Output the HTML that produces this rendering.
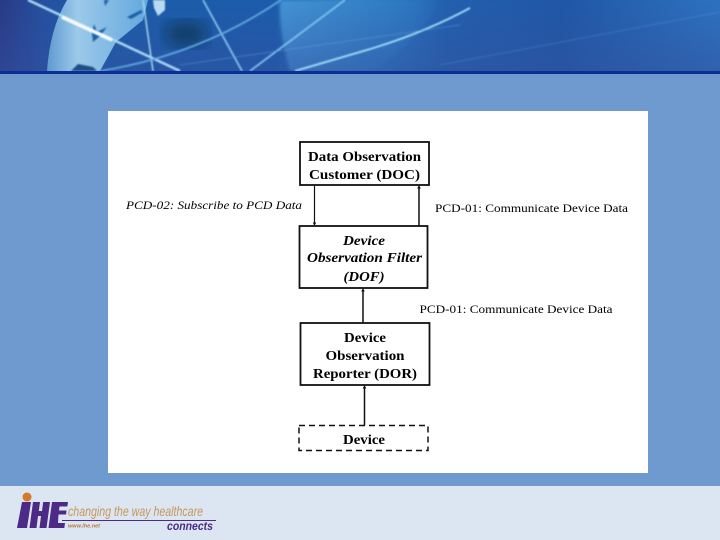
<!DOCTYPE html>
<html><head><meta charset="utf-8">
<style>html,body{margin:0;padding:0;background:#6f9acf}svg{display:block}</style></head>
<body>
<svg xmlns="http://www.w3.org/2000/svg" width="720" height="540" viewBox="0 0 720 540">
<defs>
<linearGradient id="hd" x1="0" y1="0" x2="1" y2="0">
<stop offset="0" stop-color="#2a3a86"/><stop offset=".06" stop-color="#24509f"/><stop offset=".13" stop-color="#1c5ca8"/><stop offset=".38" stop-color="#1b5cab"/><stop offset=".5" stop-color="#2f82c8"/><stop offset=".62" stop-color="#2260ae"/><stop offset=".78" stop-color="#1f57a6"/><stop offset="1" stop-color="#2d72bf"/>
</linearGradient>
<linearGradient id="hd2" x1="0" y1="0" x2="0" y2="1">
<stop offset="0" stop-color="#34509f" stop-opacity="0"/><stop offset="1" stop-color="#34509f" stop-opacity=".5"/>
</linearGradient>
<linearGradient id="globe" x1="0" y1="0" x2="1" y2="0">
<stop offset="0" stop-color="#5f9ad0"/><stop offset=".3" stop-color="#9cc9ea"/><stop offset="1" stop-color="#62a8dd"/>
</linearGradient>
<linearGradient id="ocean" x1="0" y1="0" x2="1" y2="0">
<stop offset="0" stop-color="#4493d4"/><stop offset=".7" stop-color="#2f7cc4"/><stop offset="1" stop-color="#2f7cc4" stop-opacity="0"/>
</linearGradient>
<filter id="b1"><feGaussianBlur stdDeviation=".8"/></filter>
<filter id="b2"><feGaussianBlur stdDeviation="1.500"/></filter>
<filter id="b6"><feGaussianBlur stdDeviation="8"/></filter>
<clipPath id="hc"><rect width="720" height="71"/></clipPath>
</defs>
<rect width="720" height="540" fill="#6f9acf"/>
<g clip-path="url(#hc)">
<rect width="720" height="71" fill="url(#hd)"/>
<path d="M280 0H440Q420 40 372 71H290Q278 30 280 0Z" fill="url(#ocean)" filter="url(#b2)"/>
<rect width="720" height="71" fill="url(#hd2)"/>
<path d="M67 0H148L143 20L116 42L100 71H47Q50 28 67 0Z" fill="url(#globe)"/>
<ellipse cx="186" cy="34" rx="22" ry="13" fill="#0e3d68" filter="url(#b6)"/>
<g filter="url(#b1)">
<path d="M153 0H165L165 10L158 16L154 8Z" fill="#b7daf2"/>
<path d="M127 17L141 10L143 12L131 19Z M94 24L97 32L107 27L100 36L93 42L92 33Z M104 0H109L105 6Z" fill="#1d5fa6"/>
<path d="M71 71L78 64L93 67L97 71Z" fill="#1a4f87"/>
</g>
<g fill="none" filter="url(#b1)">
<path d="M28 0L180 71" stroke="#a9d8f4" stroke-width="2.500"/>
<path d="M62 17L112 40" stroke="#f6fcff" stroke-width="3.500"/>
<path d="M143 0L153 71" stroke="#a6d6f2" stroke-width="1.500"/>
<path d="M203 0L242 71" stroke="#86c4ee" stroke-width="1.800"/>
<path d="M100 71Q200 55 281 0" stroke="#5ea8e0" stroke-width="1.800"/>
<path d="M250 71L345 0" stroke="#7cc1ee" stroke-width="1.800"/>
<path d="M295 71L360 52Q420 35 470 8" stroke="#9ad6f4" stroke-width="2"/>
<path d="M180 65L460 25" stroke="#5b9cdb" stroke-width=".8" opacity=".6"/>
<path d="M440 65L720 12" stroke="#5b9cdb" stroke-width="1" opacity=".35"/>
</g>
</g>
<rect y="71" width="720" height="3" fill="#0b2f92"/>
<rect x="108" y="111" width="540" height="362" fill="#fff"/>
<rect y="486" width="720" height="54" fill="#dce6f2"/>

<g>
<g fill="none" stroke="#111">
<rect x="300" y="142" width="129" height="43" stroke-width="1.800"/>
<rect x="299.500" y="226" width="128" height="62" stroke-width="1.800"/>
<rect x="300.500" y="323" width="129" height="62" stroke-width="1.800"/>
<rect x="299" y="425.500" width="129" height="25" stroke-width="1.500" stroke-dasharray="6 4"/>
<path d="M314.500 185V224" stroke-width="1.200"/>
<path d="M419 226V187" stroke-width="1.500"/>
<path d="M363 323V290" stroke-width="1.500"/>
<path d="M364.500 425V387" stroke-width="1.500"/>
</g>
<g fill="#111">
<path d="M312.800 222.500H316.200L314.500 226Z"/>
<path d="M417.200 188.500H420.800L419 185Z"/>
<path d="M361.200 291.500H364.800L363 288Z"/>
<path d="M362.700 388.500H366.300L364.500 385Z"/>
</g>
<g font-family="'Liberation Serif',serif" font-size="14" font-weight="bold" fill="#000" text-anchor="middle">
<text x="364.500" y="161" textLength="113" lengthAdjust="spacingAndGlyphs">Data Observation</text>
<text x="364.500" y="179" textLength="111" lengthAdjust="spacingAndGlyphs">Customer (DOC)</text>
<g font-style="italic">
<text x="364" y="245" textLength="42" lengthAdjust="spacingAndGlyphs">Device</text>
<text x="364.500" y="262" textLength="115" lengthAdjust="spacingAndGlyphs">Observation Filter</text>
<text x="364" y="281" textLength="41" lengthAdjust="spacingAndGlyphs">(DOF)</text>
</g>
<text x="365" y="342" textLength="42" lengthAdjust="spacingAndGlyphs">Device</text>
<text x="365" y="360" textLength="79" lengthAdjust="spacingAndGlyphs">Observation</text>
<text x="365" y="378" textLength="104" lengthAdjust="spacingAndGlyphs">Reporter (DOR)</text>
<text x="364" y="444" textLength="42" lengthAdjust="spacingAndGlyphs">Device</text>
</g>
<g font-family="'Liberation Serif',serif" font-size="12" fill="#000">
<text x="126" y="209" font-style="italic" textLength="176" lengthAdjust="spacingAndGlyphs">PCD-02: Subscribe to PCD Data</text>
<text x="435" y="212" textLength="193" lengthAdjust="spacingAndGlyphs">PCD-01: Communicate Device Data</text>
<text x="419.500" y="313" textLength="193" lengthAdjust="spacingAndGlyphs">PCD-01: Communicate Device Data</text>
</g>
</g>

<g>
<circle cx="27" cy="497" r="4.500" fill="#d4782a"/>
<g fill="#4c2a85">
<path d="M22 502H31L27 528H17Z"/>
<path d="M33 502H40L38.800 511H42L43.200 502H50L46.500 528H39.500L41 516H38L36.500 528H29.500Z"/>
<path d="M52 502H68L67.300 506.500H59.500L59 510.500H66.500L66 514.500H58.500L58 523H65L64.300 528H48.500Z"/>
</g>
<path d="M62 520.500H216" stroke="#4c2a85" stroke-width="1"/>
<g font-family="'Liberation Sans',sans-serif" font-style="italic">
<text x="68" y="516" font-size="14" fill="#c8965a" textLength="135" lengthAdjust="spacingAndGlyphs">changing the way healthcare</text>
<text x="68" y="527.500" font-size="5" font-weight="bold" fill="#b5793a" textLength="32" lengthAdjust="spacingAndGlyphs">www.ihe.net</text>
<text x="167" y="530" font-size="12" font-weight="bold" fill="#4c2a85" textLength="46" lengthAdjust="spacingAndGlyphs">connects</text>
</g>
</g>
</svg>
</body></html>
